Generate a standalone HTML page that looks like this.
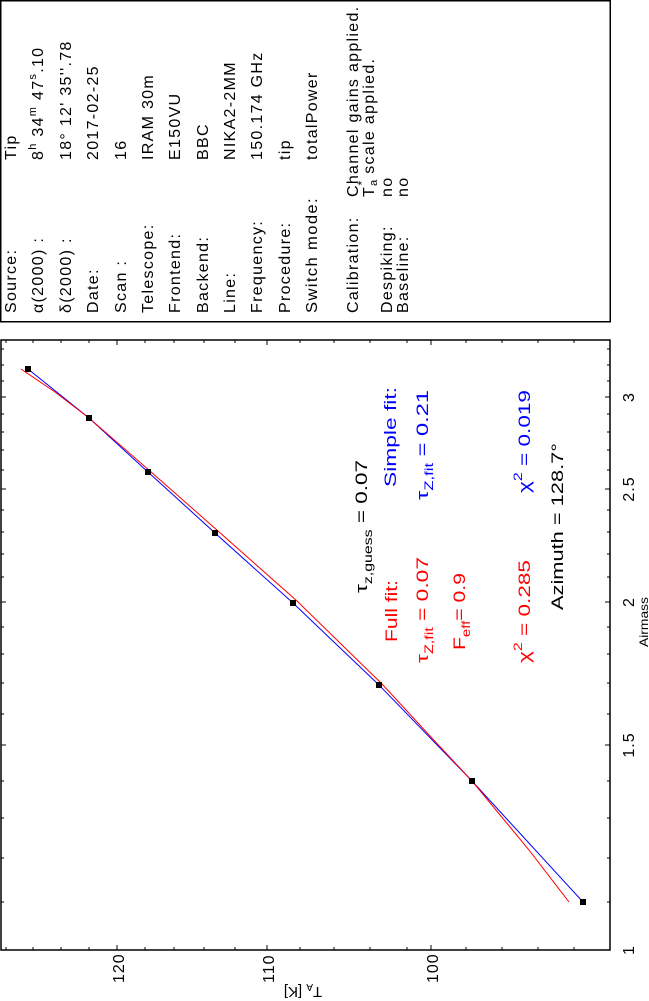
<!DOCTYPE html>
<html><head><meta charset="utf-8"><style>
html,body{margin:0;padding:0;background:#fff;}
svg{display:block;}
text{font-family:"Liberation Sans",sans-serif;}
</style></head><body>
<svg width="649" height="1001" viewBox="0 0 649 1001" xmlns="http://www.w3.org/2000/svg">
<rect x="0.75" y="0.75" width="609.5" height="321" fill="none" stroke="#000" stroke-width="1.5"/>
<rect x="1" y="340" width="609" height="610" fill="none" stroke="#000" stroke-width="1.5"/>
<g font-size="16" letter-spacing="1.3" fill="#000">
<text transform="translate(16,313) rotate(-90)">Source:</text>
<text transform="translate(43,313) rotate(-90)">α(2000) :</text>
<text transform="translate(71,313) rotate(-90)">δ(2000) :</text>
<text transform="translate(98,313) rotate(-90)">Date:</text>
<text transform="translate(126,313) rotate(-90)">Scan :</text>
<text transform="translate(153,313) rotate(-90)">Telescope:</text>
<text transform="translate(180,313) rotate(-90)">Frontend:</text>
<text transform="translate(208,313) rotate(-90)">Backend:</text>
<text transform="translate(235,313) rotate(-90)">Line:</text>
<text transform="translate(262,313) rotate(-90)">Frequency:</text>
<text transform="translate(290,313) rotate(-90)">Procedure:</text>
<text transform="translate(317,313) rotate(-90)" textLength="116" lengthAdjust="spacingAndGlyphs">Switch mode:</text>
<text transform="translate(358,313) rotate(-90)">Calibration:</text>
<text transform="translate(392,313) rotate(-90)">Despiking:</text>
<text transform="translate(408,313) rotate(-90)">Baseline:</text>

<text transform="translate(16,160) rotate(-90)">Tip</text>
<text transform="translate(43,160) rotate(-90)">8<tspan font-size="11" dy="-7">h</tspan><tspan dy="7"> 34</tspan><tspan font-size="11" dy="-7">m</tspan><tspan dy="7"> 47</tspan><tspan font-size="11" dy="-7">s</tspan><tspan dy="7">.10</tspan></text>
<text transform="translate(71,160) rotate(-90)">18° 12' 35''.78</text>
<text transform="translate(98,160) rotate(-90)">2017-02-25</text>
<text transform="translate(126,160) rotate(-90)">16</text>
<text transform="translate(153,160) rotate(-90)">IRAM 30m</text>
<text transform="translate(180,160) rotate(-90)">E150VU</text>
<text transform="translate(208,160) rotate(-90)">BBC</text>
<text transform="translate(235,160) rotate(-90)">NIKA2-2MM</text>
<text transform="translate(262,160) rotate(-90)">150.174 GHz</text>
<text transform="translate(290,160) rotate(-90)">tip</text>
<text transform="translate(317,160) rotate(-90)">totalPower</text>
<text transform="translate(358,197) rotate(-90)">Channel gains applied.</text>
<text transform="translate(374,197) rotate(-90)">T<tspan font-size="11" dy="3">a</tspan><tspan font-size="12" dx="-7" dy="-11">*</tspan><tspan dy="8"> scale applied.</tspan></text>
<text transform="translate(392,197) rotate(-90)">no</text>
<text transform="translate(408,197) rotate(-90)">no</text>
</g>

<g stroke="#000" stroke-width="1">
<path d="M6,950v-3M33,950v-3M61,950v-3M89,950v-3M117,950v-5M145,950v-3M174,950v-3M204,950v-3M235,950v-3M267,950v-5M300,950v-3M334,950v-3M370,950v-3M407,950v-3M431,950v-5M466,950v-3M502,950v-3M538,950v-3M574,950v-3
M6,340v3M33,340v3M61,340v3M89,340v3M117,340v5M145,340v3M174,340v3M204,340v3M235,340v3M267,340v5M300,340v3M334,340v3M370,340v3M407,340v3M431,340v5M466,340v3M502,340v3M538,340v3M574,340v3"/>
<path d="M610,950h-5M610,902h-3M610,858h-3M610,818h-3M610,781h-3M610,745h-5M610,714h-3M610,683h-3M610,654h-3M610,627h-3M610,602h-5M610,577h-3M610,554h-3M610,532h-3M610,510h-3M610,489h-5M610,470h-3M610,450h-3M610,432h-3M610,414h-3M610,397h-5M610,381h-3M610,365h-3M610,349h-3
M1,950h5M1,902h3M1,858h3M1,818h3M1,781h3M1,745h5M1,714h3M1,683h3M1,654h3M1,627h3M1,602h5M1,577h3M1,554h3M1,532h3M1,510h3M1,489h5M1,470h3M1,450h3M1,432h3M1,414h3M1,397h5M1,381h3M1,365h3M1,349h3"/>
</g>

<g font-size="16" letter-spacing="1" fill="#000">
<text transform="translate(124,983) rotate(-90)">120</text>
<text transform="translate(274,983) rotate(-90)">110</text>
<text transform="translate(438,983) rotate(-90)">100</text>
<text transform="translate(634,950) rotate(-90)" text-anchor="middle">1</text>
<text transform="translate(634,745) rotate(-90)" text-anchor="middle">1.5</text>
<text transform="translate(634,602) rotate(-90)" text-anchor="middle">2</text>
<text transform="translate(634,489) rotate(-90)" text-anchor="middle">2.5</text>
<text transform="translate(634,397) rotate(-90)" text-anchor="middle">3</text>
</g>
<text transform="translate(648,647) rotate(-90)" font-size="12" textLength="50" lengthAdjust="spacingAndGlyphs">Airmass</text>
<text transform="translate(303,987) rotate(180)" text-anchor="middle" font-size="15">T<tspan font-size="10" dy="3">A</tspan><tspan dy="-3"> [K]</tspan></text>

<polyline fill="none" stroke="#00f" stroke-width="1" points="28,369 89,418 148,472 215,533 293,603 379,685 472,781 583,902"/>
<polyline fill="none" stroke="#f00" stroke-width="1" points="21,369 55,392 89,418 150,471 218,531 297,601 382,684 430,736 472,781 529,850 569,902"/>
<g fill="#000">
<rect x="25" y="366" width="6" height="6"/><rect x="86" y="415" width="6" height="6"/>
<rect x="145" y="469" width="6" height="6"/><rect x="212" y="530" width="6" height="6"/>
<rect x="290" y="600" width="6" height="6"/><rect x="376" y="682" width="6" height="6"/>
<rect x="469" y="778" width="6" height="6"/><rect x="580" y="899" width="6" height="6"/>
</g>

<g font-size="17">
<text transform="translate(367,593) rotate(-90)" fill="#000" textLength="133" lengthAdjust="spacingAndGlyphs">τ<tspan font-size="12" dy="5">z,guess</tspan><tspan dy="-5"> = 0.07</tspan></text>
<text transform="translate(397,642) rotate(-90)" fill="#f00" textLength="62" lengthAdjust="spacingAndGlyphs">Full fit:</text>
<text transform="translate(396,487) rotate(-90)" fill="#00f" textLength="100" lengthAdjust="spacingAndGlyphs">Simple fit:</text>
<text transform="translate(428,663) rotate(-90)" fill="#f00" textLength="106" lengthAdjust="spacingAndGlyphs">τ<tspan font-size="12" dy="5">Z,fit</tspan><tspan dy="-5"> = 0.07</tspan></text>
<text transform="translate(428,500) rotate(-90)" fill="#00f" textLength="110" lengthAdjust="spacingAndGlyphs">τ<tspan font-size="12" dy="5">Z,fit</tspan><tspan dy="-5"> = 0.21</tspan></text>
<text transform="translate(465,650) rotate(-90)" fill="#f00" textLength="77" lengthAdjust="spacingAndGlyphs">F<tspan font-size="12" dy="5">eff</tspan><tspan dy="-5">= 0.9</tspan></text>
<text transform="translate(530,663) rotate(-90)" fill="#f00" textLength="103" lengthAdjust="spacingAndGlyphs">χ<tspan font-size="12" dy="-8">2</tspan><tspan dy="8"> = 0.285</tspan></text>
<text transform="translate(530,493) rotate(-90)" fill="#00f" textLength="103" lengthAdjust="spacingAndGlyphs">χ<tspan font-size="12" dy="-8">2</tspan><tspan dy="8"> = 0.019</tspan></text>
<text transform="translate(563,610) rotate(-90)" fill="#000" textLength="167" lengthAdjust="spacingAndGlyphs">Azimuth = 128.7°</text>
</g>
</svg>
</body></html>
